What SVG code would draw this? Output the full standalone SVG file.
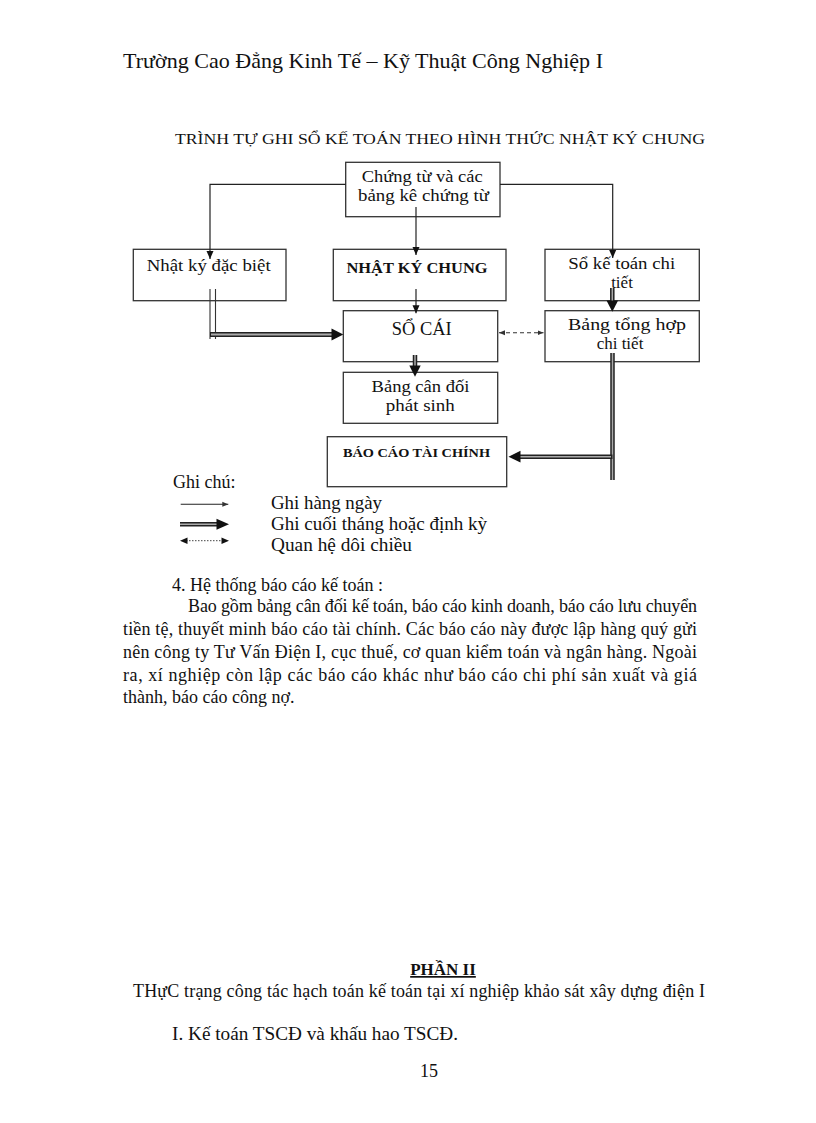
<svg xmlns="http://www.w3.org/2000/svg" width="816" height="1123" viewBox="0 0 816 1123">
<style>
text{font-family:"Liberation Serif","Times New Roman",serif;fill:#111}
.box{fill:#fff;stroke:#333;stroke-width:1.3}
.bt{font-size:17px;text-anchor:middle}
.thin{fill:none;stroke:#222;stroke-width:1.2}
.dash{fill:none;stroke:#333;stroke-width:1.1;stroke-dasharray:4,3}
.dot{fill:none;stroke:#444;stroke-width:1;stroke-dasharray:1.5,1.5}
.dbo{fill:none;stroke:#222;stroke-width:5}
.dbi{fill:none;stroke:#aaa;stroke-width:2}
.dl{fill:none;stroke:#333;stroke-width:1.1}
.head{fill:#111}
.body{font-size:18px}
.lg{font-size:18px}
</style>
<defs>
<marker id="ah" markerUnits="userSpaceOnUse" markerWidth="8" markerHeight="8" refX="8" refY="4" orient="auto"><path d="M0,0.5 L8,4 L0,7.5 z" fill="#111"/></marker>
<marker id="ahs" markerUnits="userSpaceOnUse" markerWidth="6" markerHeight="6" refX="6" refY="3" orient="auto-start-reverse"><path d="M0,0.5 L6,3 L0,5.5 z" fill="#333"/></marker>
</defs>
<rect width="816" height="1123" fill="#fff"/>

<text x="123" y="68" font-size="22" textLength="480" lengthAdjust="spacingAndGlyphs">Trường Cao Đẳng Kinh Tế – Kỹ Thuật Công Nghiệp I</text>
<text x="175" y="144" font-size="14" textLength="530" lengthAdjust="spacingAndGlyphs">TRÌNH TỰ GHI SỔ KẾ TOÁN THEO HÌNH THỨC NHẬT KÝ CHUNG</text>

<g id="n-chungtu">
<rect class="box" x="345.7" y="162.3" width="154.3" height="54.4"/>
<text class="bt" x="422.2" y="181.5" textLength="121" lengthAdjust="spacingAndGlyphs">Chứng từ và các</text>
<text class="bt" x="423.5" y="200.5" textLength="131" lengthAdjust="spacingAndGlyphs">bảng kê chứng từ</text>
</g>
<g id="n-nkdb">
<rect class="box" x="133.3" y="249.3" width="152.7" height="51.4"/>
<text class="bt" x="208.7" y="270.7" textLength="124" lengthAdjust="spacingAndGlyphs">Nhật ký đặc biệt</text>
</g>
<g id="n-nkc">
<rect class="box" x="333.3" y="249.3" width="172.7" height="51.4"/>
<text x="417" y="273.3" font-size="14.5" font-weight="bold" text-anchor="middle" textLength="141" lengthAdjust="spacingAndGlyphs">NHẬT KÝ CHUNG</text>
</g>
<g id="n-skt">
<rect class="box" x="545" y="249.3" width="154.3" height="51.4"/>
<text class="bt" x="621.7" y="268.5" textLength="107" lengthAdjust="spacingAndGlyphs">Sổ kế toán chi</text>
<text class="bt" x="622" y="287.5">tiết</text>
</g>
<g id="n-socai">
<rect class="box" x="343.3" y="310.7" width="154.4" height="51"/>
<text x="421.7" y="335" font-size="18.5" text-anchor="middle" textLength="60" lengthAdjust="spacingAndGlyphs">SỔ CÁI</text>
</g>
<g id="n-bth">
<rect class="box" x="545" y="310.7" width="154.3" height="51"/>
<text class="bt" x="627" y="330" textLength="118" lengthAdjust="spacingAndGlyphs">Bảng tổng hợp</text>
<text class="bt" x="620" y="349">chi tiết</text>
</g>
<g id="n-bcd">
<rect class="box" x="343.3" y="372.3" width="154.4" height="51"/>
<text class="bt" x="420.5" y="392" textLength="98" lengthAdjust="spacingAndGlyphs">Bảng cân đối</text>
<text class="bt" x="420.3" y="411" textLength="69" lengthAdjust="spacingAndGlyphs">phát sinh</text>
</g>
<g id="n-bctc">
<rect class="box" x="327.3" y="436.7" width="179.4" height="50"/>
<text x="416.5" y="456.5" font-size="13.5" font-weight="bold" text-anchor="middle" textLength="147" lengthAdjust="spacingAndGlyphs">BÁO CÁO TÀI CHÍNH</text>
</g>

<g id="connectors">
<path class="thin" d="M345.7,184.3 H210 V259" marker-end="url(#ah)"/>
<path class="thin" d="M416,207 V255" marker-end="url(#ah)"/>
<path class="thin" d="M500,184.3 H612.7 V258" marker-end="url(#ah)"/>
<path class="thin" d="M416,289 V313.3" marker-end="url(#ah)"/>
<path class="dl" d="M210,289 V339 M215.5,289 V339"/>
<path class="dbo" d="M210,334.5 H333"/>
<path class="dbi" d="M211,334.5 H332"/>
<polygon class="head" points="331.5,328.5 343.3,334.5 331.5,340.5"/>
<path class="dbo" d="M612.3,288 V302" style="stroke-width:4.5"/>
<path class="dbi" d="M612.3,288 V301" style="stroke-width:1.5"/>
<polygon class="head" points="606.5,300.5 618.1,300.5 612.3,311.7"/>
<path class="dash" d="M499,332.7 H543.5" marker-start="url(#ahs)" marker-end="url(#ahs)"/>
<path class="dbo" d="M415,355 V367" style="stroke-width:4.5"/>
<path class="dbi" d="M415,355 V366" style="stroke-width:1.5"/>
<polygon class="head" points="409.3,365.5 420.7,365.5 415,376.7"/>
<path class="dbo" d="M612.5,353 V480" style="stroke-width:4.5"/>
<path class="dbi" d="M612.5,353 V480" style="stroke-width:1.5"/>
<path class="dbo" d="M612.5,456.7 H519" style="stroke-width:4.5"/>
<path class="dbi" d="M611,456.7 H520" style="stroke-width:1.5"/>
<polygon class="head" points="520.5,450.8 520.5,462.6 508.5,456.7"/>
</g>

<g id="legend">
<text x="173" y="488" class="lg">Ghi chú:</text>
<path class="thin" d="M180.7,504.3 H228.3" marker-end="url(#ahs)" style="stroke-width:1.1"/>
<path class="dbo" d="M180,524.3 H218" style="stroke-width:4.5"/>
<path class="dbi" d="M180,524.3 H217" style="stroke-width:1.5"/>
<polygon class="head" points="216.5,518.8 229,524.3 216.5,529.8"/>
<path class="dot" d="M186,540.7 H223"/>
<polygon class="head" points="180,540.7 187.5,537.5 187.5,543.9"/>
<polygon class="head" points="229,540.7 221.5,537.5 221.5,543.9"/>
<text x="271" y="509" class="lg" textLength="111" lengthAdjust="spacingAndGlyphs">Ghi hàng ngày</text>
<text x="271" y="530" class="lg" textLength="216" lengthAdjust="spacingAndGlyphs">Ghi cuối tháng hoặc định kỳ</text>
<text x="271" y="551" class="lg" textLength="141" lengthAdjust="spacingAndGlyphs">Quan hệ dôi chiều</text>
</g>

<g id="paragraph">
<text x="172" y="591" class="body" textLength="211" lengthAdjust="spacingAndGlyphs">4. Hệ thống báo cáo kế toán :</text>
<text x="188" y="612" class="body" textLength="509" lengthAdjust="spacing">Bao gồm bảng cân đối kế toán, báo cáo kinh  doanh, báo cáo lưu chuyển</text>
<text x="123" y="635" class="body" textLength="574" lengthAdjust="spacing">tiền tệ, thuyết minh báo cáo tài chính. Các báo cáo này được lập hàng quý gửi</text>
<text x="123" y="658" class="body" textLength="574" lengthAdjust="spacing">nên công ty Tư Vấn Điện I, cục thuế, cơ quan kiểm toán và ngân hàng. Ngoài</text>
<text x="123" y="681" class="body" textLength="574" lengthAdjust="spacing">ra, xí nghiệp  còn lập các báo cáo khác như báo cáo chi phí sản xuất và giá</text>
<text x="123" y="703" class="body">thành, báo cáo công nợ.</text>
</g>

<g id="part2">
<text x="443" y="975" font-size="17" font-weight="bold" text-anchor="middle" text-decoration="underline">PHẦN II</text>
<text x="133" y="997" class="body" textLength="572" lengthAdjust="spacing">THựC trạng công tác hạch toán kế toán tại xí nghiệp khảo sát xây dựng điện I</text>
<text x="172" y="1040" class="body" textLength="286" lengthAdjust="spacingAndGlyphs">I. Kế toán TSCĐ và khấu hao TSCĐ.</text>
<text x="429" y="1077" class="body" text-anchor="middle">15</text>
</g>
</svg>
